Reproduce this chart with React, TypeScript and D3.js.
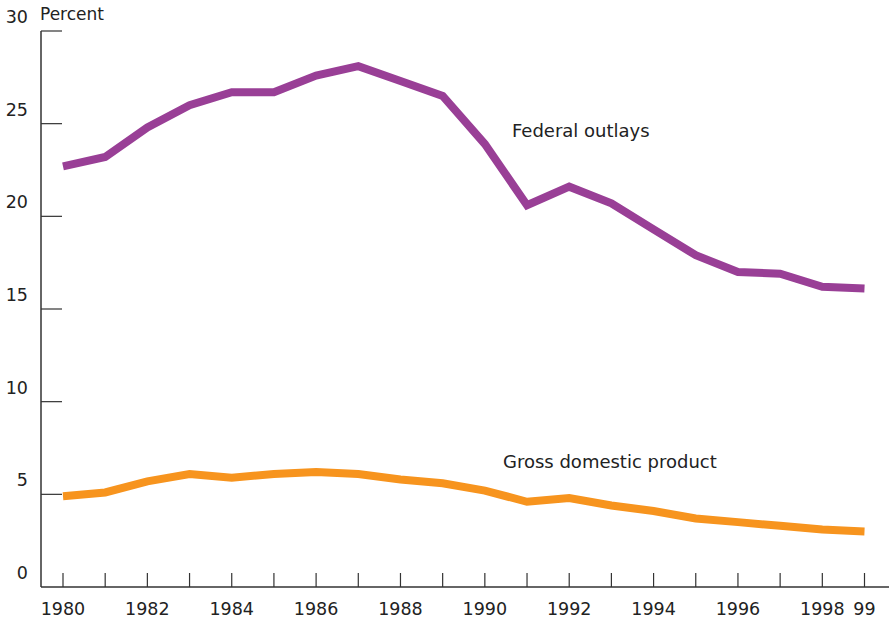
import React from "react";
import * as d3 from "d3";

const years = [1980,1981,1982,1983,1984,1985,1986,1987,1988,1989,1990,1991,1992,1993,1994,1995,1996,1997,1998,1999];
const federalOutlays = [22.7,23.2,24.8,26.0,26.7,26.7,27.6,28.1,27.3,26.5,23.9,20.6,21.6,20.7,19.3,17.9,17.0,16.9,16.2,16.1];
const gdp = [4.9,5.1,5.7,6.1,5.9,6.1,6.2,6.1,5.8,5.6,5.2,4.6,4.8,4.4,4.1,3.7,3.5,3.3,3.1,3.0];
const yTicks = [0,5,10,15,20,25,30];
const xLabelYears = [1980,1982,1984,1986,1988,1990,1992,1994,1996,1998,1999];

export default function App() {
  const W = 889, H = 623;
  const x = d3.scaleLinear().domain([1980, 1999]).range([63, 864.5]);
  const y = d3.scaleLinear().domain([0, 30]).range([587, 31]);
  const line = d3.line<number>().x((_, i) => x(years[i])).y((d) => y(d));
  const font = "'DejaVu Sans', sans-serif";
  const axisColor = "#333";
  return (
    <svg width={W} height={H} style={{ position: "absolute", left: 0, top: 0 }}>
      <rect width={W} height={H} fill="#fff" />
      <line x1={41} x2={41} y1={31} y2={587} stroke={axisColor} strokeWidth={1.5} />
      <line x1={41} x2={889} y1={587} y2={587} stroke={axisColor} strokeWidth={1.5} />
      {yTicks.filter(t => t > 0).map((t) => (
        <line key={t} x1={41} x2={62} y1={y(t)} y2={y(t)} stroke={axisColor} strokeWidth={1.2} />
      ))}
      {yTicks.map((t) => (
        <text key={t} x={28} y={y(t) - 8} textAnchor="end" fontFamily={font} fontSize={17.5} fill="#222">{t}</text>
      ))}
      <text x={40} y={20} fontFamily={font} fontSize={17} fill="#222">Percent</text>
      {years.map((yr) => (
        <line key={yr} x1={x(yr)} x2={x(yr)} y1={573} y2={587} stroke={axisColor} strokeWidth={1.2} />
      ))}
      {xLabelYears.map((yr) => (
        <text key={yr} x={x(yr)} y={615} textAnchor="middle" fontFamily={font} fontSize={17.5} fill="#222">
          {yr === 1999 ? "99" : yr}
        </text>
      ))}
      <path d={line(federalOutlays) || ""} fill="none" stroke="#993F96" strokeWidth={8} strokeLinejoin="miter" />
      <path d={line(gdp) || ""} fill="none" stroke="#F7941E" strokeWidth={8} strokeLinejoin="miter" />
      <text x={512} y={137} fontFamily={font} fontSize={18} fill="#222">Federal outlays</text>
      <text x={503} y={468} fontFamily={font} fontSize={18} fill="#222">Gross domestic product</text>
    </svg>
  );
}
